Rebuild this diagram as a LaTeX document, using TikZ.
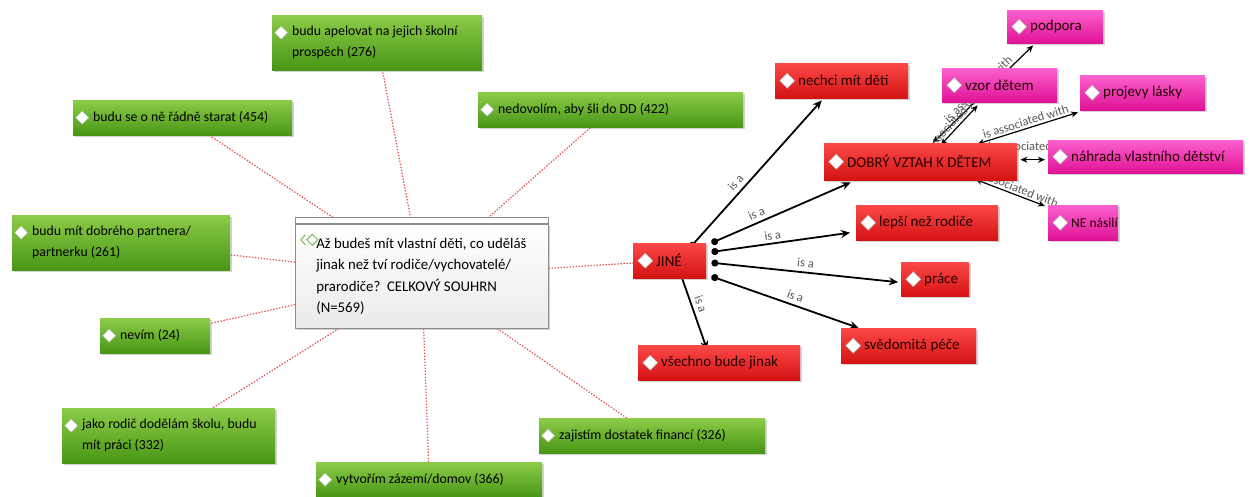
\documentclass[tikz,border=0pt]{standalone}
\usepackage{fontspec}
\setmainfont{Carlito}
\usetikzlibrary{arrows.meta,shadows}
\pgfdeclarelayer{bg}
\pgfsetlayers{bg,main}
\definecolor{gtop}{RGB}{140,204,72}
\definecolor{gbot}{RGB}{72,150,22}
\definecolor{rtop}{RGB}{252,72,72}
\definecolor{rbot}{RGB}{212,18,18}
\definecolor{ptop}{RGB}{252,96,206}
\definecolor{pbot}{RGB}{224,18,150}
\definecolor{dotred}{RGB}{226,80,80}
\definecolor{iconG}{RGB}{120,190,90}
\newcommand\bt[2]{\hspace*{16pt}\parbox{\dimexpr#1pt-24pt\relax}{\raggedright #2}}
\newcommand\rt[2]{\hspace*{20pt}\makebox[\dimexpr#1pt-26pt\relax][l]{#2}}
\tikzset{
  box/.style={rectangle, anchor=north west, inner sep=0pt,
    drop shadow={shadow xshift=2pt, shadow yshift=-2pt, opacity=0.35}},
  gbox/.style={box, top color=gtop, bottom color=gbot, text=black,
    font=\fontsize{13.8}{21}\selectfont,
    path picture={\fill[white, draw=black!25, line width=0.4pt]
      ([xshift=9pt,yshift=-17.5pt]path picture bounding box.north west)
      +(-6.5pt,0) -- +(0,6.5pt) -- +(6.5pt,0) -- +(0,-6.5pt) -- cycle;}},
  rdia/.style={font=\fontsize{15}{21}\selectfont,
    path picture={\fill[white, draw=black!30, line width=0.5pt]
      ([xshift=12pt]path picture bounding box.west)
      +(-7.5pt,0) -- +(0,7.5pt) -- +(7.5pt,0) -- +(0,-7.5pt) -- cycle;}},
  rbox/.style={box, rdia, top color=rtop, bottom color=rbot, text=black!85!red},
  pbox/.style={box, rdia, top color=ptop, bottom color=pbot, text=black!85!red},
  cbox/.style={rectangle, anchor=north west, inner sep=0pt,
    font=\fontsize{14.8}{21.5}\selectfont, top color=white, bottom color=black!8,
    draw=black!45, line width=0.6pt,
    drop shadow={shadow xshift=2pt, shadow yshift=-2pt, opacity=0.35},
    path picture={
      \draw[iconG, line width=1pt] ([xshift=10pt,yshift=-10.5pt]path picture bounding box.north west)
        -- ++(-4.5pt,-5pt) -- ++(4.5pt,-5pt);
      \draw[iconG, line width=1pt] ([xshift=17pt,yshift=-10pt]path picture bounding box.north west)
        -- ++(-5.5pt,-5.5pt) -- ++(5.5pt,-5.5pt) -- ++(5.5pt,5.5pt) -- cycle;}},
  dotline/.style={dotred, line width=1.2pt, dash pattern=on 1.4pt off 1.6pt},
  isa/.style={black, line width=1.8pt, {Circle[length=7pt]}-{Stealth[length=9pt,width=8pt]}},
  assoc/.style={black, line width=1.2pt, {Stealth[length=7pt,width=6pt]}-{Stealth[length=7pt,width=6pt]}},
  lbl/.style={font=\fontsize{12.5}{13}\selectfont, text=black!65, inner sep=1pt}
}
\begin{document}
\begin{tikzpicture}[x=1pt, y=-1pt]
\useasboundingbox (0,0) rectangle (1254,497);

% central question
\node[cbox, minimum width=253pt, minimum height=104pt] (q) at (295,224)
  {\hspace*{15pt}\parbox{226pt}{\raggedright Až budeš mít vlastní děti, co uděláš\\jinak než tví rodiče/vychovatelé/\\prarodiče?\ \ CELKOVÝ SOUHRN\\(N=569)}};
\draw[black!45, fill=white, line width=0.6pt] ([yshift=1pt]q.north west) rectangle ([yshift=7pt]q.north east);

% green answers
\node[gbox, minimum width=210pt, minimum height=55pt] (apel) at (272,15) {\bt{210}{budu apelovat na jejich školní\\prospěch (276)}};
\node[gbox, minimum width=219pt, minimum height=35pt] (starat) at (73,100) {\bt{219}{budu se o ně řádně starat (454)}};
\node[gbox, minimum width=265pt, minimum height=35pt] (dd) at (478,92) {\bt{265}{nedovolím, aby šli do DD (422)}};
\node[gbox, minimum width=218pt, minimum height=55pt] (partner) at (12,215) {\bt{218}{budu mít dobrého partnera/\\partnerku (261)}};
\node[gbox, minimum width=110pt, minimum height=35pt] (nevim) at (100,318) {\bt{110}{nevím (24)}};
\node[gbox, minimum width=213pt, minimum height=55pt] (skola) at (62,408) {\bt{213}{jako rodič dodělám školu, budu\\mít práci (332)}};
\node[gbox, minimum width=226pt, minimum height=35pt] (domov) at (316,462) {\bt{226}{vytvořím zázemí/domov (366)}};
\node[gbox, minimum width=226pt, minimum height=35pt] (financ) at (539,418) {\bt{226}{zajistím dostatek financí (326)}};

% red nodes
\node[rbox, minimum width=73pt, minimum height=35pt] (jine) at (633,243) {\rt{73}{JINÉ}};
\node[rbox, minimum width=133pt, minimum height=35pt] (nechci) at (775,63) {\rt{133}{nechci mít děti}};
\node[rbox, minimum width=193pt, minimum height=37pt] (dobry) at (824,143) {\rt{193}{DOBRÝ VZTAH K DĚTEM}};
\node[rbox, minimum width=142pt, minimum height=35pt] (lepsi) at (856,205) {\rt{142}{lepší než rodiče}};
\node[rbox, minimum width=68pt, minimum height=34pt] (prace) at (901,262) {\rt{68}{práce}};
\node[rbox, minimum width=135pt, minimum height=35pt] (svedo) at (841,328) {\rt{135}{svědomitá péče}};
\node[rbox, minimum width=162pt, minimum height=35pt] (vse) at (638,345) {\rt{162}{všechno bude jinak}};

% pink nodes
\node[pbox, minimum width=96pt, minimum height=33pt] (podpora) at (1007,10) {\rt{96}{podpora}};
\node[pbox, minimum width=115pt, minimum height=34pt] (vzor) at (942,68) {\rt{115}{vzor dětem}};
\node[pbox, minimum width=125pt, minimum height=35pt] (projevy) at (1080,75) {\rt{125}{projevy lásky}};
\node[pbox, minimum width=195pt, minimum height=33pt] (nahrada) at (1048,140) {\rt{195}{náhrada vlastního dětství}};
\node[pbox, minimum width=70pt, minimum height=35pt] (nenasili) at (1048,205) {\rt{70}{\fontsize{13.5}{21}\selectfont NE násilí}};

\begin{pgfonlayer}{bg}
\fill[white] (0,0) rectangle (1254,497);
% dotted connectors
\foreach \t in {apel,starat,dd,partner,nevim,skola,domov,financ,jine}
  \draw[dotline] (q) -- (\t);

% is a edges
\draw[isa] ([xshift=20pt,yshift=-5pt]jine.north) -- node[lbl, sloped, above=3pt, pos=0.4] {is a} ([xshift=-20pt,yshift=-2pt]nechci.south);
\draw[isa] ([xshift=5pt]jine.north east) -- node[lbl, sloped, above=3pt, pos=0.35] {is a} ([xshift=-70pt,yshift=-2pt]dobry.south);
\draw[isa] ([xshift=5pt,yshift=-9pt]jine.north east) -- node[lbl, sloped, above=2pt, pos=0.45] {is a} ([xshift=-6pt,yshift=-10pt]lepsi.west);
\draw[isa] ([xshift=5pt,yshift=-2pt]jine.east) -- node[lbl, sloped, above=3pt, pos=0.5] {is a} ([xshift=-3pt,yshift=-3pt]prace.west);
\draw[isa] ([xshift=5pt,yshift=2pt]jine.south east) -- node[lbl, sloped, above=3pt, pos=0.55] {is a} ([xshift=-50pt]svedo.north);
\draw[isa] ([xshift=10pt,yshift=7pt]jine.south) -- node[lbl, sloped, above=3pt, pos=0.45] {is a} ([xshift=-12pt,yshift=-5pt]vse.north);

% association edges
\draw[assoc] ([xshift=12pt]dobry.north) -- node[lbl, sloped, above=1pt] {is associated with} ([xshift=-22pt,yshift=-2pt]podpora.south);
\draw[assoc] ([xshift=20pt,yshift=-2pt]dobry.north) -- node[lbl, sloped, above=1pt, pos=0.45] {is associated with} ([xshift=-22pt,yshift=-3pt]vzor.south);
\draw[assoc] ([xshift=-40pt,yshift=-1pt]dobry.north east) -- node[lbl, sloped, above=1pt] {is associated with} ([xshift=-2pt,yshift=-2pt]projevy.south west);
\draw[assoc] ([xshift=3pt,yshift=2pt]dobry.east) -- node[lbl, above=8pt] {is associated with} ([xshift=-3pt,yshift=-3pt]nahrada.west);
\draw[assoc] ([xshift=-42pt,yshift=1pt]dobry.south east) -- node[lbl, sloped, above=1pt, pos=0.55] {is associated with} ([xshift=-3pt,yshift=-1pt]nenasili.north west);
\end{pgfonlayer}
\end{tikzpicture}
\end{document}
